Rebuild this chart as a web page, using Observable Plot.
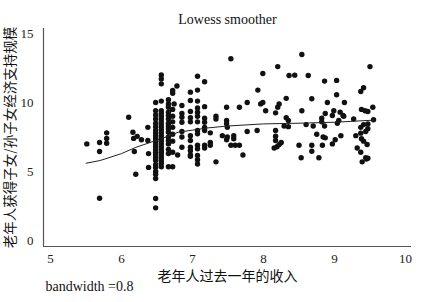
<!DOCTYPE html>
<html>
<head>
<meta charset="utf-8">
<script src="https://cdn.jsdelivr.net/npm/d3@7"></script>
<script src="https://cdn.jsdelivr.net/npm/@observablehq/plot@0.6"></script>
<style>
  html, body { margin: 0; padding: 0; background: #fff; }
</style>
</head>
<body>
<div id="chart"></div>
<script>
const title = "Lowess smoother";
const xLabel = "老年人过去一年的收入";
const yLabel = "老年人获得子女/孙子女经济支持规模";
const caption = "bandwidth =0.8";
const xTicks = [5, 6, 7, 8, 9, 10];
const yTicks = [0, 5, 10, 15];
const xDomain = [4.9, 10.085];
const yDomain = [-0.43, 15.36];

// scatter: income (x) and support (y)
const incomeX = [
  5.51, 5.69, 5.69, 5.69, 5.79, 5.79, 5.79, 6.10, 6.16, 6.17, 6.22, 6.28, 6.18, 6.20,
  6.37, 6.37, 6.38, 6.38,
  6.48, 6.48, 6.48, 6.48, 6.48, 6.48, 6.48, 6.48, 6.48, 6.48, 6.48, 6.48, 6.48, 6.48,
  6.48, 6.48, 6.48, 6.48, 6.48, 6.48, 6.48, 6.48, 6.48, 6.48, 6.48,
  6.56, 6.56, 6.56, 6.56, 6.56, 6.56, 6.56, 6.56, 6.56, 6.56, 6.56, 6.56, 6.56, 6.56,
  6.56, 6.56, 6.56, 6.56, 6.56, 6.56, 6.56, 6.56, 6.56, 6.56, 6.56,
  6.66, 6.66, 6.66, 6.66, 6.66, 6.66, 6.66, 6.66, 6.66, 6.66, 6.66, 6.66, 6.66, 6.66, 6.66, 6.66,
  6.72, 6.72, 6.72, 6.72, 6.72, 6.72, 6.72, 6.72, 6.72, 6.72,
  6.78, 6.79, 6.74,
  6.85, 6.85, 6.85, 6.85, 6.85, 6.85, 6.85,
  6.97, 6.97, 6.97, 6.97, 6.97, 6.97, 6.97, 6.97, 6.97, 6.97, 6.97,
  7.07, 7.07, 7.07, 7.07, 7.07, 7.07, 7.07, 7.07, 7.07, 7.07, 7.07, 7.07, 7.07, 7.07,
  7.17, 7.17, 7.17, 7.17, 7.17, 7.17, 7.17, 7.17,
  7.25, 7.25, 7.25, 7.33, 7.33, 7.33, 7.42,
  7.48, 7.48, 7.48, 7.49, 7.49, 7.48, 7.54,
  7.58, 7.58, 7.54, 7.60, 7.66, 7.66, 7.71, 7.77, 7.77,
  7.92, 7.91, 7.99, 7.96, 7.99, 8.03,
  8.17, 8.20, 8.22, 8.20, 8.17, 8.17, 8.17, 8.15, 8.19, 8.22, 8.25,
  8.29, 8.32, 8.32, 8.35, 8.35, 8.36, 8.44,
  8.50, 8.53, 8.54, 8.54, 8.60, 8.63,
  8.68, 8.70, 8.68, 8.68, 8.75, 8.78,
  8.82, 8.82, 8.84, 8.87, 8.83, 8.86, 8.86, 8.87, 8.90,
  8.97, 8.99, 8.97, 9.01, 9.03, 9.03, 9.06, 9.04, 9.09,
  9.08, 9.12, 9.13, 9.14, 9.27, 9.30, 9.37, 9.44,
  9.37, 9.41, 9.38, 9.43, 9.47, 9.54, 9.55, 9.37, 9.41, 9.47, 9.47, 9.50,
  9.38, 9.41, 9.46, 9.32, 9.37, 9.44, 9.47, 9.39, 9.45
];
const supportY = [
  7.0, 7.1, 6.45, 3.07, 7.8, 7.4, 7.05, 8.93, 7.85, 7.4, 7.55, 7.3, 6.45, 4.8,
  8.2, 7.25, 6.3, 5.3,
  10.0, 9.4, 9.1, 8.8, 8.5, 8.25, 8.0, 7.8, 7.6, 7.4, 7.2, 7.0, 6.8, 6.6,
  6.4, 6.2, 6.0, 5.8, 5.5, 5.3, 5.0, 4.8, 4.5, 3.05, 2.37,
  12.0, 11.7, 11.35, 10.1, 9.4, 9.2, 9.0, 8.8, 8.6, 8.4, 8.2, 8.0, 7.8, 7.6,
  7.4, 7.2, 7.0, 6.8, 6.6, 6.4, 6.2, 6.0, 5.8, 5.6, 5.35,
  10.2, 9.9, 9.66, 9.3, 9.06, 8.8, 8.5, 8.3, 8.1, 7.85, 7.5, 7.25, 7.0, 6.6, 6.3, 5.35,
  10.87, 10.67, 9.5, 9.0, 8.6, 8.2, 7.7, 7.2, 6.4, 5.35,
  11.2, 6.2, 9.9,
  9.78, 9.2, 8.93, 8.57, 7.9, 7.5, 6.76,
  10.75, 10.15, 9.35, 8.9, 8.6, 7.6, 7.25, 6.76, 6.5, 6.2, 6.1,
  11.9, 10.9, 10.1, 9.6, 9.3, 9.0, 8.6, 7.97, 7.73, 6.9, 6.65, 6.16, 5.85, 5.55,
  11.5, 9.7, 8.86, 8.57, 8.2, 7.97, 6.9, 6.7,
  7.8, 7.1, 6.9, 9.0, 8.8, 5.7, 7.6,
  9.66, 8.7, 8.46, 8.2, 7.5, 7.3, 13.17,
  7.6, 7.37, 6.9, 6.9, 6.9, 9.66, 6.2, 10.0, 7.9,
  10.9, 7.97, 12.1, 9.9, 10.0, 9.4,
  9.25, 9.66, 9.9, 12.6, 7.97, 7.56, 7.25, 6.7, 6.8, 6.95, 7.1,
  8.3, 10.3, 8.9, 8.7, 8.25, 11.96, 11.98,
  6.9, 6.0, 9.4, 13.48, 8.4, 11.96,
  10.27, 8.3, 6.9, 6.47, 7.7, 6.0,
  8.86, 8.6, 7.5, 7.44, 6.9, 11.55, 8.3, 9.2, 10.0,
  9.06, 9.4, 7.0, 7.3, 11.6, 10.56, 8.7, 8.5, 7.6,
  9.3, 9.06, 9.0, 10.0, 8.8, 7.6, 7.78, 7.9,
  10.8, 11.07, 9.5, 9.4, 9.35, 9.66, 8.75, 8.2, 8.4, 8.45, 8.1, 12.6,
  7.37, 7.2, 6.96, 6.7, 6.4, 6.0, 5.96, 5.7, 5.9
];

// lowess smoother curve
const lowessX = [5.5, 5.7, 6.0, 6.2, 6.4, 6.6, 6.8, 7.0, 7.2, 7.5, 8.0, 8.5, 9.0, 9.55];
const lowessY = [5.6, 5.8, 6.3, 6.75, 7.1, 7.45, 7.85, 8.0, 8.15, 8.3, 8.45, 8.5, 8.57, 8.72];

const points = incomeX.map((x, i) => ({x, y: supportY[i]}));
const curve = lowessX.map((x, i) => ({x, y: lowessY[i]}));

const serif = "'Liberation Serif', 'DejaVu Serif', serif";
const cjk = "'Noto Sans CJK SC', sans-serif";

const chart = Plot.plot({
  width: 447,
  height: 302,
  marginLeft: 43,
  marginRight: 36,
  marginTop: 28,
  marginBottom: 56,
  style: {fontFamily: serif, fontSize: "13px", background: "#fff", color: "#222"},
  x: {domain: xDomain},
  y: {domain: yDomain},
  marks: [
    Plot.axisX({ticks: xTicks, tickFormat: d3.format("d"), tickSize: 0, tickPadding: 7, label: null, fontFamily: serif, fontSize: 13, fill: "#222"}),
    Plot.axisY({ticks: yTicks, tickFormat: d3.format("d"), tickSize: 0, tickPadding: 10, label: null, fontFamily: serif, fontSize: 13, fill: "#222"}),
    Plot.ruleY([yDomain[0]], {stroke: "#555", strokeWidth: 1.2}),
    Plot.ruleX([xDomain[0]], {stroke: "#555", strokeWidth: 1.2}),
    Plot.dot(points, {x: "x", y: "y", r: 2.7, fill: "#111", stroke: "none"}),
    Plot.line(curve, {x: "x", y: "y", stroke: "#222", strokeWidth: 1}),
    Plot.text([title], {frameAnchor: "top", lineAnchor: "middle", dy: -9, text: d => d, fontSize: 14, fontFamily: serif, fill: "#111"}),
    Plot.text([xLabel], {frameAnchor: "bottom", lineAnchor: "middle", dy: 30, text: d => d, fontSize: 14, fontFamily: cjk, fill: "#111"}),
    Plot.text([caption], {frameAnchor: "bottom-left", lineAnchor: "middle", textAnchor: "start", dx: 2, dy: 40, text: d => d, fontSize: 14, fontFamily: serif, fill: "#111"}),
    Plot.text([yLabel], {frameAnchor: "left", lineAnchor: "middle", textAnchor: "middle", rotate: -90, dx: -33, text: d => d, fontSize: 13.5, fontFamily: cjk, fill: "#111"})
  ]
});
document.getElementById("chart").appendChild(chart);
</script>
</body>
</html>
